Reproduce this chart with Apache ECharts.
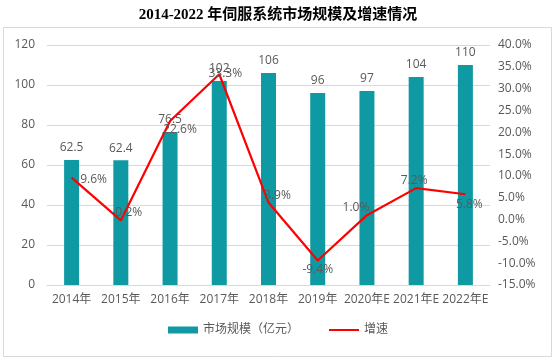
<!DOCTYPE html>
<html><head><meta charset="utf-8">
<script src="https://cdn.jsdelivr.net/npm/echarts@6/dist/echarts.min.js"></script>
<style>html,body{margin:0;padding:0;background:#fff}#c{width:556px;height:361px}</style>
</head><body><div id="c"></div>
<script>
var categories = ['2014年','2015年','2016年','2017年','2018年','2019年','2020年E','2021年E','2022年E'];
var marketSize = [62.5, 62.4, 76.5, 102, 106, 96, 97, 104, 110];
var growth = [9.6, -0.2, 22.6, 33.3, 3.9, -9.4, 1.0, 7.2, 5.8];
var leftTicks = {min: 0, max: 120, interval: 20};
var rightTicks = {min: -15, max: 40, interval: 5};

// label offsets for the growth labels (style only)
var growthLabelOffsets = [[22,2],[6,-8],[10,9],[6,-1],[9,-7],[0,9],[-11,-8],[-2,-8],[4,10]];

var chart = echarts.init(document.getElementById('c'));
var font = '"Open Sans", "Noto Sans CJK SC", sans-serif';
chart.setOption({
  animation: false,
  backgroundColor: '#fff',
  title: {
    text: '2014-2022 年伺服系统市场规模及增速情况',
    left: 'center', top: 3,
    textStyle: {fontFamily: '"Liberation Serif", "Noto Sans CJK SC", serif', fontWeight: 'bold', fontSize: 15, color: '#000'}
  },
  graphic: [{type: 'rect', shape: {x: 3.5, y: 27.5, width: 548, height: 329}, style: {fill: 'none', stroke: '#d9d9d9', lineWidth: 1}, z: -1}],
  grid: {left: 47, right: 66, top: 45, bottom: 76},
  legend: {
    bottom: 20, left: 'center', itemGap: 30,
    textStyle: {fontFamily: font, fontSize: 12, color: '#595959'},
    data: [
      {name: '市场规模（亿元）', icon: 'rect', itemStyle: {color: '#0f9aa3'}},
      {name: '增速', icon: 'path://M0,0 L30,0 L30,2 L0,2 Z', itemStyle: {color: '#ff0000'}}
    ],
    itemWidth: 30, itemHeight: 7
  },
  xAxis: {
    type: 'category', data: categories,
    axisLine: {lineStyle: {color: '#d9d9d9'}},
    axisTick: {show: false},
    axisLabel: {interval: 0, color: '#595959', fontFamily: font, fontSize: 12, margin: 9}
  },
  yAxis: [{
    type: 'value', min: leftTicks.min, max: leftTicks.max, interval: leftTicks.interval,
    axisLine: {show: false}, axisTick: {show: false},
    splitLine: {lineStyle: {color: '#d9d9d9'}},
    axisLabel: {color: '#595959', fontFamily: font, fontSize: 12, margin: 12}
  }, {
    type: 'value', min: rightTicks.min, max: rightTicks.max, interval: rightTicks.interval,
    axisLine: {show: false}, axisTick: {show: false}, splitLine: {show: false},
    axisLabel: {color: '#595959', fontFamily: font, fontSize: 12, margin: 8,
      formatter: function(v){ return v.toFixed(1) + '%'; }}
  }],
  series: [{
    name: '市场规模（亿元）', type: 'bar', data: marketSize, barWidth: 15,
    itemStyle: {color: '#0f9aa3'},
    label: {show: true, position: 'top', distance: 6, color: '#595959', fontFamily: font, fontSize: 12}
  }, {
    name: '增速', type: 'line', yAxisIndex: 1, symbol: 'circle', symbolSize: 0, showSymbol: true,
    lineStyle: {color: '#ff0000', width: 2.2}, itemStyle: {color: '#ff0000'},
    data: growth.map(function(v, i){
      return {value: v, label: {offset: growthLabelOffsets[i]}};
    }),
    label: {show: true, position: 'inside', color: '#595959', fontFamily: font, fontSize: 12,
      formatter: function(p){ return p.value.toFixed(1) + '%'; }},
    z: 5
  }]
});
</script></body></html>
